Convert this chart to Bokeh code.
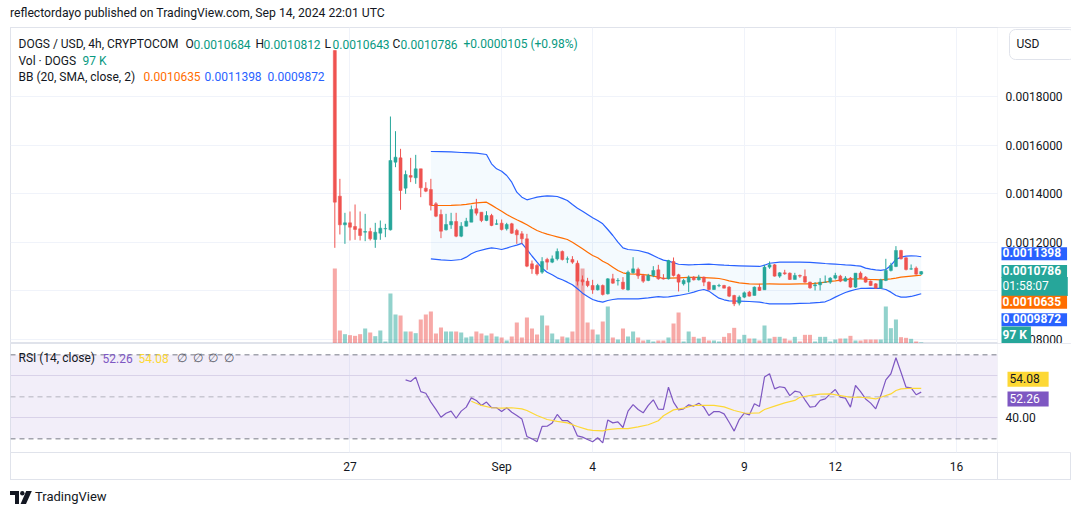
import pandas as pd
from bokeh.plotting import figure
from bokeh.models import (Range1d, FixedTicker, NumeralTickFormatter, Label, Span,
                          BoxAnnotation, Div, Grid, ColumnDataSource)
from bokeh.layouts import column
from bokeh.embed import file_html
from bokeh.resources import INLINE

# ---------------- data (prices in units of 1e-7 USD) ----------------
PRICE_UNIT = 1e-7
first_bar = "2024-08-26 12:00"
bar_hours = 4

open_ = [19911, 13900, 12716, 12799, 12648, 12551, 12414, 12441, 12111, 12372,
         12551, 12510, 15303, 15481, 14230, 14752, 14656, 15028, 14230, 14175,
         13583, 13143, 12510, 12716, 12854, 12249, 12661, 12827, 13377, 13239,
         12895, 13102, 12740, 12785, 12551, 12758, 12483, 12345, 12138, 11107,
         11038, 10763, 11286, 11176, 11313, 11616, 11300, 11286, 11134, 10447,
         10391, 10212, 10034, 10212, 9869, 10488, 10405, 10350, 10034, 10740,
         10880, 10625, 10419, 10625, 10860, 10520, 10489, 11204, 10654, 10282,
         10351, 10557, 10447, 10557, 10351, 10048, 10200, 10213, 10145, 9801,
         9484, 9732, 9939, 9801, 10145, 10035, 10970, 11066, 10599, 10736,
         10722, 10461, 10626, 10585, 10351, 10200, 10241, 10340, 10351, 10516,
         10599, 10392, 10516, 10145, 10722, 10557, 10392, 10282, 10103, 10420,
         10833, 10998, 11658, 11355, 10890, 10929, 10684]
high = [19911, 14615, 13212, 13267, 13556, 13267, 13170, 12593, 12799, 12895,
        12758, 17187, 16582, 15853, 14959, 15481, 15605, 15028, 14477, 14615,
        13652, 13349, 13170, 13212, 13212, 12827, 13005, 13514, 13789, 13239,
        13280, 13170, 12937, 12937, 12799, 12799, 12551, 12455, 12345, 11244,
        11107, 11382, 11355, 11451, 11740, 11657, 11410, 11424, 11244, 10625,
        10529, 10447, 10281, 10254, 10515, 10694, 10515, 10557, 10832, 11382,
        10950, 10694, 10694, 11011, 11066, 10680, 11273, 11369, 10695, 10489,
        10626, 10600, 10654, 10585, 10379, 10240, 10282, 10240, 10186, 9828,
        9801, 9966, 9990, 10172, 10282, 11066, 11204, 11100, 10764, 10860,
        10750, 10736, 10667, 10874, 10370, 10351, 10516, 10626, 10557, 10736,
        10654, 10599, 10557, 10722, 10791, 10600, 10420, 10310, 10489, 11314,
        11149, 11837, 11686, 11383, 11080, 10998, 10812]
low = [11767, 12318, 11932, 12070, 12097, 12070, 12042, 12070, 11767, 12097,
       12207, 12483, 15096, 13335, 13996, 14477, 14409, 13858, 14065, 13308,
       13033, 12166, 12483, 12551, 12207, 12207, 12648, 12827, 13102, 12827,
       12868, 12661, 12716, 12483, 12483, 12345, 11932, 11932, 10969, 10694,
       10625, 10694, 10859, 11135, 11244, 11244, 11135, 11107, 10212, 10212,
       10144, 9869, 10006, 9800, 9841, 10281, 10212, 10034, 10006, 10700,
       10488, 10323, 10391, 10557, 10447, 10460, 10461, 10585, 9966, 10213,
       9938, 10420, 10420, 10186, 10007, 10030, 10144, 10090, 9732, 9361,
       9390, 9691, 9760, 9801, 9990, 10035, 10901, 10580, 10530, 10654,
       10440, 10461, 10530, 10323, 10076, 10007, 10007, 10323, 10282, 10461,
       10351, 10380, 10117, 10117, 10489, 10330, 10190, 10076, 10076, 10392,
       10791, 10970, 11286, 10833, 10860, 10654, 10643]
close = [13652, 12716, 12799, 12620, 12524, 12276, 12441, 12138, 12414, 12579,
         12565, 15371, 15509, 14133, 14794, 14684, 15028, 14243, 14106, 13528,
         13074, 12455, 12730, 12854, 12249, 12661, 12868, 13349, 13198, 12895,
         13102, 12689, 12758, 12524, 12730, 12372, 12304, 12138, 11011, 10900,
         10694, 11203, 11176, 11313, 11616, 11286, 11313, 11176, 10391, 10364,
         10212, 10034, 10212, 9841, 10488, 10309, 10419, 10075, 10763, 10900,
         10612, 10391, 10625, 10832, 10489, 10480, 11245, 10626, 10351, 10420,
         10557, 10447, 10557, 10351, 10048, 10213, 10213, 10103, 9773, 9457,
         9732, 9911, 9773, 10145, 10007, 10970, 11066, 10599, 10736, 10695,
         10461, 10626, 10599, 10351, 10117, 10241, 10351, 10351, 10516, 10626,
         10392, 10516, 10145, 10722, 10516, 10351, 10213, 10103, 10447, 10833,
         11039, 11658, 11314, 10874, 10901, 10681, 10786]
volume_k = [6750, 1170, 840, 750, 690, 840, 1350, 990, 660, 1170,
            180, 4500, 2610, 2520, 1080, 1080, 930, 2160, 2610, 2880,
            900, 1440, 1080, 1080, 1080, 990, 540, 630, 1080, 900,
            720, 900, 630, 540, 270, 630, 1890, 540, 2340, 1350,
            810, 2520, 1620, 900, 360, 630, 540, 1080, 7110, 6750,
            1890, 1260, 810, 1980, 3330, 540, 360, 1350, 630, 1080,
            540, 270, 330, 180, 270, 270, 540, 1800, 2790, 180,
            1080, 600, 450, 600, 270, 270, 180, 600, 930, 1410,
            360, 780, 450, 450, 270, 1620, 450, 600, 600, 450,
            270, 600, 180, 780, 780, 180, 600, 600, 180, 360,
            450, 450, 690, 270, 270, 360, 360, 360, 360, 3330,
            1380, 2160, 570, 510, 420, 180, 97]

bb_idx = [19, 21, 23, 25, 26, 27, 28, 30, 31, 32,
          33, 34, 35, 36, 37, 38, 39, 40, 41, 42,
          43, 44, 45, 46, 47, 48, 49, 50, 51, 52,
          53, 54, 55, 56, 57, 58, 60, 62, 64, 65,
          66, 68, 70, 71, 72, 73, 74, 75, 76, 77,
          78, 80, 82, 84, 85, 86, 88, 90, 92, 94,
          96, 97, 98, 99, 100, 101, 102, 103, 104, 105,
          106, 107, 108, 109, 110, 111, 112, 113, 114, 115,
          116]
bb_upper = [15743, 15735, 15725, 15702, 15695, 15685, 15674, 15619, 15234, 15028,
            14931, 14752, 14477, 14065, 13858, 13748, 13803, 13858, 13890, 13913,
            13900, 13886, 13810, 13721, 13556, 13405, 13281, 13143, 13005, 12895,
            12758, 12524, 12276, 12001, 11767, 11699, 11657, 11547, 11350, 11260,
            11220, 11090, 11066, 11070, 11080, 11087, 11094, 11080, 11066, 11050,
            11039, 11025, 11011, 10998, 11050, 11130, 11176, 11176, 11176, 11163,
            11135, 11120, 11108, 11094, 11080, 11066, 11053, 11030, 11011, 10929,
            10888, 10860, 10833, 10874, 11039, 11286, 11383, 11424, 11438, 11430,
            11398]
bb_mid = [13514, 13514, 13520, 13542, 13560, 13590, 13624, 13652, 13530, 13405,
          13281, 13143, 13033, 12923, 12827, 12716, 12593, 12483, 12400, 12331,
          12276, 12221, 12166, 12111, 12001, 11864, 11726, 11589, 11451, 11355,
          11217, 11107, 10969, 10832, 10736, 10694, 10680, 10639, 10557, 10502,
          10516, 10530, 10544, 10544, 10544, 10537, 10530, 10516, 10502, 10460,
          10406, 10323, 10282, 10268, 10275, 10282, 10268, 10268, 10282, 10282,
          10323, 10350, 10379, 10406, 10434, 10455, 10475, 10482, 10489, 10475,
          10461, 10454, 10447, 10468, 10489, 10520, 10557, 10578, 10599, 10620,
          10635]
bb_lower = [11313, 11272, 11244, 11286, 11382, 11520, 11616, 11726, 11767, 11740,
            11699, 11754, 11822, 11880, 11950, 11700, 11430, 11176, 10928, 10763,
            10653, 10529, 10447, 10350, 10240, 10075, 9896, 9759, 9635, 9566,
            9525, 9594, 9635, 9662, 9662, 9662, 9662, 9704, 9750, 9730,
            9746, 9801, 9883, 9938, 10007, 10048, 9980, 9828, 9691, 9622,
            9581, 9567, 9553, 9526, 9490, 9457, 9457, 9457, 9471, 9484,
            9512, 9539, 9622, 9732, 9828, 9925, 9993, 10048, 10090, 10097,
            10103, 10097, 10090, 10048, 9938, 9801, 9732, 9732, 9760, 9815,
            9872]

rsi_start = 14
rsi = [58.1, 57.3, 59.4, 52.5, 51.7, 47.5, 44.0, 40.3, 42.2, 43.2,
       39.8, 43.2, 45.1, 49.5, 48.3, 45.9, 47.5, 44.8, 44.8, 43.0,
       44.8, 42.7, 41.1, 39.5, 31.1, 30.0, 28.6, 35.9, 36.0, 37.6,
       41.6, 38.7, 38.7, 36.8, 31.4, 30.8, 29.7, 28.6, 30.5, 28.1,
       39.0, 37.6, 38.1, 35.4, 43.2, 46.3, 44.0, 42.4, 45.9, 48.6,
       44.1, 44.0, 54.6, 47.5, 43.8, 44.3, 46.2, 45.6, 47.0, 45.1,
       41.1, 43.0, 43.0, 41.9, 37.9, 33.7, 39.2, 42.2, 41.4, 46.7,
       45.4, 59.4, 61.0, 53.8, 54.8, 54.4, 50.6, 52.7, 52.2, 48.6,
       45.1, 45.4, 48.3, 49.0, 51.4, 53.5, 49.8, 49.4, 45.1, 55.4,
       52.5, 49.0, 47.0, 44.3, 50.6, 58.1, 61.0, 68.6, 61.7, 54.6,
       54.3, 51.0, 52.26]
rsi_ma_idx = [27, 29, 31, 33, 35, 37, 38, 40, 42, 44,
              46, 48, 50, 51, 53, 54, 56, 58, 60, 62,
              64, 65, 67, 69, 71, 73, 75, 77, 79, 81,
              82, 84, 85, 87, 89, 91, 92, 94, 96, 98,
              100, 102, 104, 106, 107, 108, 110, 111, 112, 114,
              116]
rsi_ma = [47.9, 45.9, 44.8, 44.6, 44.8, 44.3, 43.5, 41.1, 39.2, 38.3,
          37.6, 35.9, 34.4, 34.0, 33.8, 34.4, 34.9, 34.9, 35.7, 36.7,
          38.6, 41.0, 43.8, 44.6, 45.9, 46.0, 45.9, 45.2, 43.5, 42.3,
          42.2, 42.4, 44.0, 45.6, 47.1, 48.3, 49.8, 50.6, 51.3, 51.4,
          50.6, 49.8, 49.8, 49.4, 49.0, 49.8, 51.4, 53.0, 53.8, 54.1,
          54.08]

date_ticks = ["2024-08-27", "2024-09-01", "2024-09-04", "2024-09-09", "2024-09-12", "2024-09-16"]
date_labels = ["27", "Sep", "4", "9", "12", "16"]
price_ticks = [0.0008, 0.0012, 0.0014, 0.0016, 0.0018]
price_grid = [0.0008, 0.0010, 0.0012, 0.0014, 0.0016, 0.0018]
rsi_ticks = [40]
rsi_grid = [40, 60]
countdown = "01:58:07"

# ---------------- styling ----------------
FONT = "Roboto"
DARK = "#131722"
UP = "#26a69a"
DOWN = "#ef5350"
UP_TXT = "#089981"
GRID = "#f0f3fa"
BORDER = "#e0e3eb"
BLUE = "#2962ff"
ORANGE = "#ff6d00"
PURPLE = "#7e57c2"
YELLOW = "#fdd835"
BOX_STYLE = {"outline": "1px solid #e0e3eb", "outline-offset": "-1px"}
LABEL_STANDOFF = -66   # axis labels drawn inside the price column

n = len(close)
times = pd.date_range(first_bar, periods=n, freq=f"{bar_hours}h")
x_ms = [v / 1e6 for v in times.asi8]
bar_ms = bar_hours * 3600 * 1000
DAY = 86400000
tick_ms = [pd.Timestamp(d).value / 1e6 for d in date_ticks]
x_range = Range1d(tick_ms[0] - 11.193 * DAY, tick_ms[0] + 23.788 * DAY)
price_col_x = tick_ms[0] + 21.348 * DAY   # where the price-scale column begins

P = lambda v: v * PRICE_UNIT
up = [c >= o for o, c in zip(open_, close)]
src = ColumnDataSource(dict(
    x=x_ms,
    o=[P(v) for v in open_], h=[P(v) for v in high], l=[P(v) for v in low], c=[P(v) for v in close],
    top=[P(max(o, c)) for o, c in zip(open_, close)],
    bot=[P(min(o, c)) for o, c in zip(open_, close)],
    col=[UP if u else DOWN for u in up],
    vol=volume_k,
))


def style_axis(ax):
    ax.axis_line_color = None
    ax.major_tick_line_color = None
    ax.minor_tick_line_color = None
    ax.major_tick_out = 0
    ax.major_tick_in = 0
    ax.major_label_text_font = FONT
    ax.major_label_text_font_size = "12px"
    ax.major_label_text_color = DARK


def price_column_mask(fig):
    fig.add_layout(BoxAnnotation(left=price_col_x, fill_color="white", fill_alpha=1,
                                 line_color=BORDER, line_width=1, level="underlay"))


FRAME_H = 316
p = figure(width=1061, height=FRAME_H, x_range=x_range, y_range=Range1d(0.00078185, 0.0020861),
           x_axis_type="datetime", x_axis_location=None, y_axis_location="right",
           toolbar_location=None, output_backend="svg",
           min_border_left=0, min_border_right=0, min_border_top=0, min_border_bottom=0,
           margin=(0, 0, 0, 10), outline_line_color=BORDER, background_fill_color="white",
           border_fill_color="white", styles=BOX_STYLE)
p.extra_y_ranges = {"vol": Range1d(0, FRAME_H * 90)}

for g in p.xgrid:
    g.visible = False
p.add_layout(Grid(dimension=0, ticker=FixedTicker(ticks=tick_ms), grid_line_color=GRID))
p.ygrid.ticker = FixedTicker(ticks=price_grid)
p.ygrid.grid_line_color = GRID
price_column_mask(p)

ya = p.yaxis[0]
style_axis(ya)
ya.ticker = FixedTicker(ticks=price_ticks)
ya.formatter = NumeralTickFormatter(format="0.0000000")
ya.major_label_standoff = LABEL_STANDOFF

# volume
p.vbar(x="x", width=bar_ms * 0.8, top="vol", bottom=0, y_range_name="vol",
       fill_color="col", line_color=None, fill_alpha=0.5, source=src)

# Bollinger bands
bb_x = [x_ms[i] for i in bb_idx]
p.varea(x=bb_x, y1=[P(v) for v in bb_lower], y2=[P(v) for v in bb_upper],
        fill_color="#2196f3", fill_alpha=0.05)
p.line(bb_x, [P(v) for v in bb_upper], line_color=BLUE, line_width=1.2)
p.line(bb_x, [P(v) for v in bb_lower], line_color=BLUE, line_width=1.2)
p.line(bb_x, [P(v) for v in bb_mid], line_color=ORANGE, line_width=1.2)

# candles
p.segment(x0="x", y0="l", x1="x", y1="h", line_color="col", line_width=1, source=src)
p.vbar(x="x", width=bar_ms * 0.6, top="top", bottom="bot", fill_color="col",
       line_color="col", line_width=0.5, source=src)


def txt(fig, x, y, text, color, size="12px", bold=False, **kw):
    fig.add_layout(Label(x=x, y=y, x_units="screen", y_units=kw.pop("y_units", "screen"),
                         text=text, text_color=color, text_font=FONT, text_font_size=size,
                         text_font_style="bold" if bold else "normal",
                         text_baseline="middle", text_align="left", **kw))


# legend lines
chg = close[-1] - close[-2]
y1, y2, y3 = FRAME_H - 16.5, FRAME_H - 33, FRAME_H - 49
txt(p, 8, y1, "DOGS / USD, 4h, CRYPTOCOM", DARK)
for lx, name, val in [(175, "O", open_[-1]), (245, "H", high[-1]), (314, "L", low[-1]), (382, "C", close[-1])]:
    txt(p, lx, y1, name, DARK)
    txt(p, lx + 8, y1, f"{P(val):.7f}", UP_TXT)
txt(p, 453, y1, f"{P(chg):+.7f} ({chg / close[-2] * 100:+.2f}%)", UP_TXT)
txt(p, 8, y2, "Vol · DOGS", DARK)
txt(p, 72, y2, f"{volume_k[-1]} K", UP_TXT)
txt(p, 8, y3, "BB (20, SMA, close, 2)", DARK)
txt(p, 133, y3, f"{P(bb_mid[-1]):.7f}", ORANGE)
txt(p, 194, y3, f"{P(bb_upper[-1]):.7f}", BLUE)
txt(p, 257, y3, f"{P(bb_lower[-1]):.7f}", BLUE)

# USD box
txt(p, 999, FRAME_H - 17, "USD", DARK, border_line_color=BORDER, border_radius=6,
    padding=(7, 36, 7, 9), background_fill_color="white")

# price-axis tags
TX = 991
PAD = (1, 6, 1, 3)
tagkw = dict(bold=True, y_units="data", padding=PAD)
txt(p, TX, P(bb_upper[-1]), f"{P(bb_upper[-1]):.7f}", "white", background_fill_color=BLUE,
    y_offset=3, **tagkw)
txt(p, TX, P(close[-1]), countdown, "white", background_fill_color=UP, y_offset=-15,
    **dict(tagkw, bold=False, padding=(1, 19, 2, 3)))
txt(p, TX, P(close[-1]), f"{P(close[-1]):.7f}", "white", background_fill_color=UP,
    y_offset=0, **tagkw)
txt(p, TX, P(bb_mid[-1]), f"{P(bb_mid[-1]):.7f}", "white", background_fill_color=ORANGE,
    y_offset=-27, **tagkw)
txt(p, TX, P(bb_lower[-1]), f"{P(bb_lower[-1]):.7f}", "white", background_fill_color=BLUE,
    y_offset=-26, **tagkw)
txt(p, TX, 8, f"{volume_k[-1]} K", "white", bold=True, background_fill_color=UP,
    padding=(1, 4, 1, 3))

# ---------------- RSI pane ----------------
RSI_STYLE = dict(BOX_STYLE, background="linear-gradient(#e0e3eb, #e0e3eb) no-repeat 987px 100% / 1px 28px")
r = figure(width=1061, height=137, x_range=x_range, y_range=Range1d(23.5, 75.4),
           x_axis_type="datetime", y_axis_location="right", toolbar_location=None,
           output_backend="svg", min_border_left=0, min_border_right=0,
           min_border_top=0, min_border_bottom=28, margin=(0, 0, 0, 10),
           outline_line_color=BORDER, background_fill_color="white",
           border_fill_color=None, styles=RSI_STYLE)
r.xgrid.ticker = FixedTicker(ticks=tick_ms)
r.xgrid.grid_line_color = GRID
r.ygrid.ticker = FixedTicker(ticks=rsi_grid)
r.ygrid.grid_line_color = "#e4e0ee"

xa = r.xaxis[0]
style_axis(xa)
xa.ticker = FixedTicker(ticks=tick_ms)
xa.major_label_overrides = {t: lab for t, lab in zip(tick_ms, date_labels)}
xa.major_label_standoff = 7
rya = r.yaxis[0]
style_axis(rya)
rya.ticker = FixedTicker(ticks=rsi_ticks)
rya.formatter = NumeralTickFormatter(format="0.00")
rya.major_label_standoff = LABEL_STANDOFF

r.add_layout(BoxAnnotation(bottom=30, top=70, fill_color=PURPLE, fill_alpha=0.1,
                           line_color=None, level="underlay"))
for lvl, alpha in [(70, 1.0), (50, 0.5), (30, 1.0)]:
    r.add_layout(Span(location=lvl, dimension="width", line_color="#787b86", line_alpha=alpha,
                      line_dash="5 4", line_width=1, level="underlay"))
price_column_mask(r)

r.line(x_ms[rsi_start:rsi_start + len(rsi)], rsi, line_color=PURPLE, line_width=1.2)
r.line([x_ms[i] for i in rsi_ma_idx], rsi_ma, line_color=YELLOW, line_width=1.2)

ry = 109 - 14.7
txt(r, 8, ry, "RSI (14, close)", DARK)
txt(r, 92, ry, f"{rsi[-1]:.2f}", PURPLE)
txt(r, 128, ry, f"{rsi_ma[-1]:.2f}", YELLOW)
for lx in [166, 182, 197, 213]:
    txt(r, lx, ry, "∅", "#5d606b")

RPAD = (2, 9, 2, 4)
txt(r, 997, rsi_ma[-1], f"{rsi_ma[-1]:.2f}", DARK, y_units="data", background_fill_color=YELLOW,
    y_offset=9, padding=RPAD)
txt(r, 997, rsi[-1], f"{rsi[-1]:.2f}", "white", y_units="data", background_fill_color=PURPLE,
    y_offset=-7, padding=RPAD)

# ---------------- header / footer ----------------
header = Div(text='<div style="font-family:Roboto;font-size:12.2px;color:#131722;line-height:27px;'
                  'padding-left:10px;white-space:nowrap">reflectordayo published on TradingView.com, '
                  'Sep 14, 2024 22:01 UTC</div>', width=1080, height=27, margin=0)
logo = ('<svg width="22" height="13" viewBox="0 0 22 13" style="display:block">'
        '<path d="M0 0h9v13H5V4H0z" fill="#131722"/><circle cx="12.3" cy="2.2" r="2.2" fill="#131722"/>'
        '<path d="M16.2 0h5.6L16 13h-5.4z" fill="#131722"/></svg>')
footer = Div(text='<div style="display:flex;align-items:center;height:34px;padding-left:10px;'
                  'font-family:Roboto;font-size:13px;color:#131722;white-space:nowrap">' + logo +
                  '<span style="margin-left:3px">TradingView</span></div>',
             width=1080, height=35, margin=0)

layout = column(header, p, r, footer)
open("out.html", "w").write(file_html(layout, INLINE))
